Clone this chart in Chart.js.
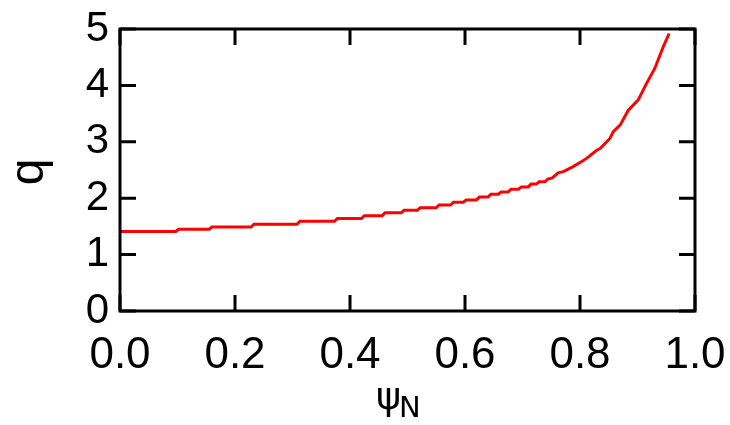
<!DOCTYPE html>
<html>
<head>
<meta charset="utf-8">
<script src="https://cdn.jsdelivr.net/npm/chart.js@4.4.1/dist/chart.umd.min.js"></script>
<style>
  html, body { margin: 0; padding: 0; background: #fff; }
  #wrap { width: 730px; height: 425px; }
</style>
</head>
<body>
<div id="wrap"><canvas id="qChart" width="730" height="425"></canvas></div>
<script>
// safety factor profile q(psi_N), staircase comes from the equilibrium grid
var psiN = [0.000, 0.097, 0.102, 0.155, 0.160, 0.228, 0.233, 0.308, 0.313, 0.373,
            0.378, 0.420, 0.425, 0.456, 0.461, 0.489, 0.494, 0.517, 0.522, 0.550,
            0.555, 0.575, 0.580, 0.597, 0.602, 0.620, 0.625, 0.640, 0.645, 0.658,
            0.663, 0.675, 0.680, 0.693, 0.698, 0.710, 0.715, 0.724, 0.729, 0.739,
            0.744, 0.752, 0.762, 0.771, 0.788, 0.803, 0.812, 0.829, 0.835, 0.852,
            0.858, 0.870, 0.884, 0.901, 0.916, 0.930, 0.945, 0.955];
var qVals = [1.41, 1.41, 1.45, 1.45, 1.49, 1.49, 1.54, 1.54, 1.59, 1.59,
             1.64, 1.64, 1.69, 1.69, 1.74, 1.74, 1.785, 1.785, 1.83, 1.83,
             1.88, 1.88, 1.93, 1.93, 1.97, 1.97, 2.02, 2.02, 2.07, 2.07,
             2.11, 2.11, 2.16, 2.16, 2.20, 2.20, 2.25, 2.25, 2.29, 2.29,
             2.34, 2.36, 2.45, 2.47, 2.56, 2.65, 2.71, 2.85, 2.88, 3.06,
             3.18, 3.30, 3.56, 3.74, 4.04, 4.30, 4.69, 4.92];

var xTickLabels = ['0.0', '0.2', '0.4', '0.6', '0.8', '1.0'];
var yTickLabels = ['0', '1', '2', '3', '4', '5'];
var xTitle = 'ψ';
var xTitleSub = 'N';
var yTitle = 'q';

var tickLen = 16;

// box frame + inward ticks on all four sides, plus axis titles
var framePlugin = {
    id: 'frameTicks',
    afterDraw: function (chart) {
        var ctx = chart.ctx;
        var a = chart.chartArea;
        var xs = chart.scales.x;
        var ys = chart.scales.y;
        ctx.save();
        ctx.strokeStyle = '#000';
        ctx.lineWidth = 3;
        ctx.lineCap = 'butt';
        ctx.strokeRect(a.left, a.top, a.right - a.left, a.bottom - a.top);

        ctx.beginPath();
        xs.ticks.forEach(function (t) {
            var px = xs.getPixelForValue(t.value);
            ctx.moveTo(px, a.bottom);
            ctx.lineTo(px, a.bottom - tickLen);
            ctx.moveTo(px, a.top);
            ctx.lineTo(px, a.top + tickLen);
        });
        ys.ticks.forEach(function (t) {
            var py = ys.getPixelForValue(t.value);
            ctx.moveTo(a.left, py);
            ctx.lineTo(a.left + tickLen, py);
            ctx.moveTo(a.right, py);
            ctx.lineTo(a.right - tickLen, py);
        });
        ctx.stroke();

        // x title: psi with subscript N, both sitting on the same ink bottom
        ctx.fillStyle = '#000';
        ctx.textAlign = 'left';
        ctx.textBaseline = 'alphabetic';
        var inkBottom = 417;
        ctx.font = '38px "DejaVu Sans"';
        var m1 = ctx.measureText(xTitle);
        ctx.fillText(xTitle, 378 + m1.actualBoundingBoxLeft, inkBottom - m1.actualBoundingBoxDescent);
        ctx.font = '29px "DejaVu Sans"';
        var m2 = ctx.measureText(xTitleSub);
        ctx.fillText(xTitleSub, 401 + m2.actualBoundingBoxLeft, inkBottom - m2.actualBoundingBoxDescent);

        // y title, rotated
        ctx.save();
        ctx.translate(43, 172);
        ctx.rotate(-Math.PI / 2);
        ctx.textAlign = 'center';
        ctx.textBaseline = 'alphabetic';
        ctx.font = '48px "Liberation Sans"';
        ctx.fillText(yTitle, 0, 0);
        ctx.restore();

        ctx.restore();
    }
};

document.addEventListener('DOMContentLoaded', function () {
    var ctx = document.getElementById('qChart').getContext('2d');
    var points = psiN.map(function (p, i) { return { x: p, y: qVals[i] }; });

    new Chart(ctx, {
        type: 'line',
        data: {
            datasets: [{
                data: points,
                borderColor: 'rgb(255,0,0)',
                borderWidth: 3,
                pointRadius: 0,
                fill: false,
                tension: 0
            }]
        },
        options: {
            responsive: false,
            animation: false,
            layout: { padding: { top: 29, right: 35, left: 0, bottom: 0 } },
            plugins: {
                legend: { display: false },
                tooltip: { enabled: false }
            },
            scales: {
                x: {
                    type: 'linear',
                    min: 0,
                    max: 1,
                    grid: { display: false, drawTicks: false },
                    border: { display: false },
                    afterFit: function (s) {
                        s.height = 114;
                        s.paddingLeft = 0;
                        s.paddingRight = 0;
                    },
                    ticks: {
                        stepSize: 0.2,
                        autoSkip: false,
                        maxRotation: 0,
                        padding: 18,
                        color: '#000',
                        font: { family: 'Liberation Sans', size: 44 },
                        callback: function (v, i) { return xTickLabels[i]; }
                    }
                },
                y: {
                    min: 0,
                    max: 5,
                    grid: { display: false, drawTicks: false },
                    border: { display: false },
                    afterFit: function (s) {
                        s.width = 120;
                        s.paddingTop = 0;
                        s.paddingBottom = 0;
                    },
                    ticks: {
                        stepSize: 1,
                        padding: 11,
                        color: '#000',
                        font: { family: 'Liberation Sans', size: 42 },
                        callback: function (v, i) { return yTickLabels[i]; }
                    }
                }
            }
        },
        plugins: [framePlugin]
    });
});
</script>
</body>
</html>
